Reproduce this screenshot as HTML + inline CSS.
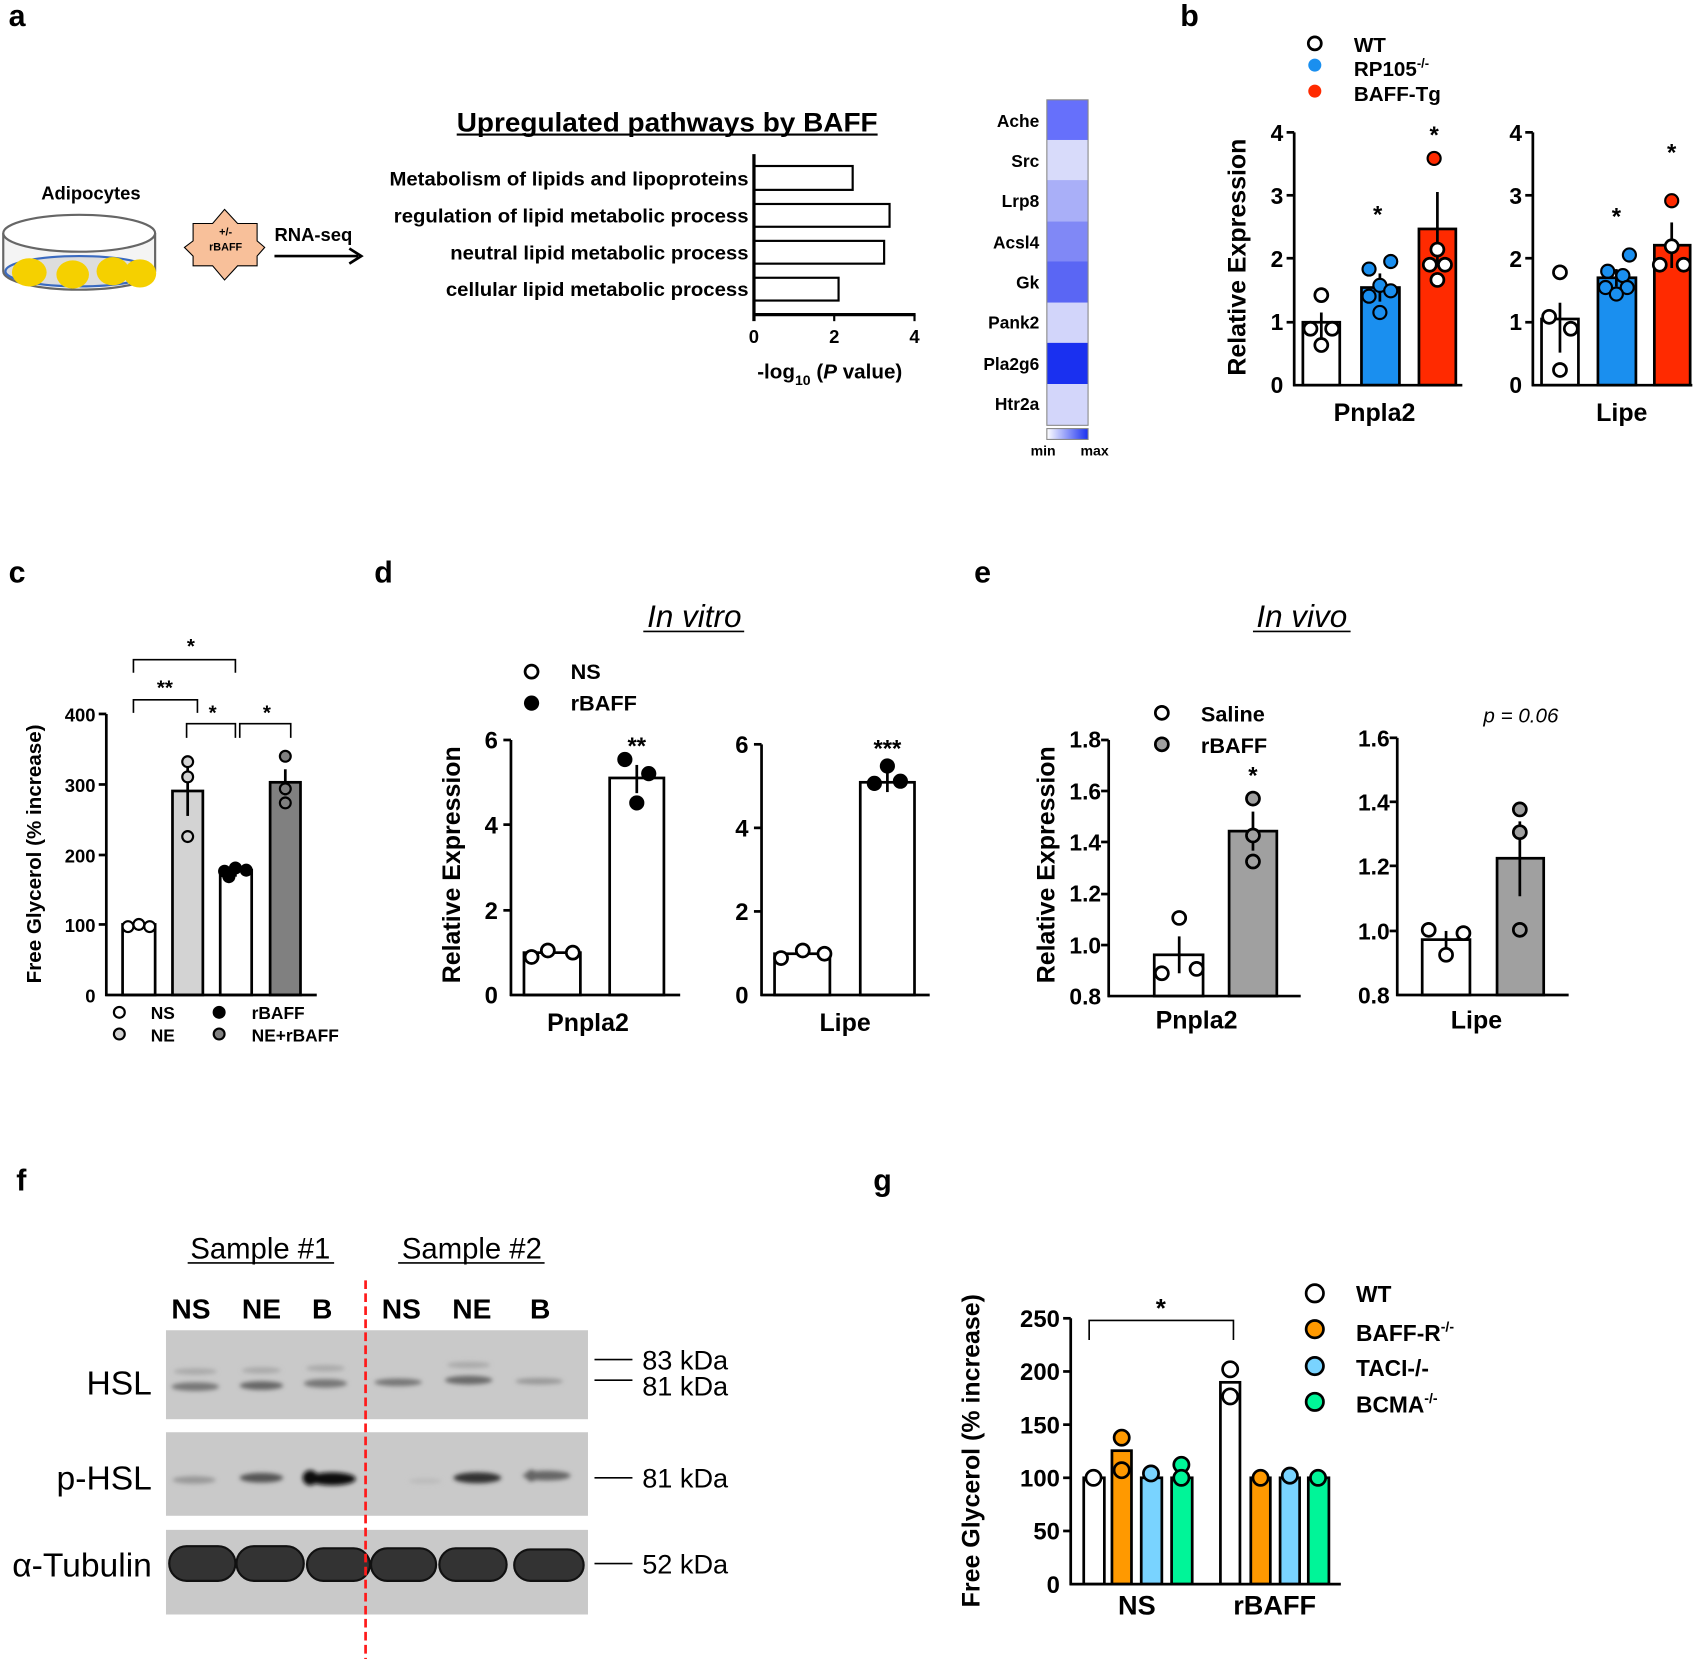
<!DOCTYPE html>
<html><head><meta charset="utf-8"><style>
html,body{margin:0;padding:0;background:#fff}
svg{display:block}
text{font-family:"Liberation Sans",Arial,sans-serif;font-weight:bold;fill:#000}
</style></head><body>
<svg width="1701" height="1659" viewBox="0 0 1568 1529" preserveAspectRatio="none" xmlns="http://www.w3.org/2000/svg">
<defs>
<linearGradient id="cb" x1="0" x2="1"><stop offset="0" stop-color="#fff"/><stop offset="1" stop-color="#1a30f0"/></linearGradient>
<filter id="bl"><feGaussianBlur stdDeviation="2"/></filter>
</defs>
<!-- panel a -->
<text x="8" y="24" font-size="28">a</text>
<text x="38" y="184" font-size="17">Adipocytes</text>
<path d="M3,215 L3,250 A70,17 0 0 0 143,250 L143,215" fill="#f4f4f4" stroke="#666" stroke-width="2"/>
<ellipse cx="73" cy="250" rx="68" ry="14" fill="#ddd" stroke="#3a6ac0" stroke-width="2"/>
<ellipse cx="73" cy="215" rx="70" ry="17" fill="#fff" stroke="#666" stroke-width="2"/>
<ellipse cx="27" cy="251" rx="16" ry="13" fill="#f5d000"/>
<ellipse cx="67" cy="253" rx="15" ry="13" fill="#f5d000"/>
<ellipse cx="104" cy="250" rx="15" ry="13" fill="#f5d000"/>
<ellipse cx="129" cy="252" rx="15" ry="13" fill="#f5d000"/>
<polygon points="207,193 219,206 237,206 237,222 244,228 237,236 237,245 219,245 207,258 196,245 178,245 178,236 170,228 178,222 178,206 196,206" fill="#f8c09a" stroke="#000" stroke-width="1"/>
<text x="208" y="217" font-size="10" text-anchor="middle">+/-</text>
<text x="208" y="231" font-size="10" text-anchor="middle">rBAFF</text>
<text x="253" y="222" font-size="17">RNA-seq</text>
<line x1="253" y1="236" x2="330" y2="236" stroke="#000" stroke-width="2.5"/>
<path d="M322,229 L333,236 L322,243" fill="none" stroke="#000" stroke-width="2.5"/>
<text x="421" y="121" font-size="25" textLength="388" lengthAdjust="spacingAndGlyphs">Upregulated pathways by BAFF</text>
<line x1="421" y1="124" x2="809" y2="124" stroke="#000" stroke-width="2"/>
<g stroke="#000" stroke-width="2" fill="#fff">
<rect x="695" y="153" width="91" height="22"/><rect x="695" y="188" width="125" height="21"/>
<rect x="695" y="222" width="120" height="21"/><rect x="695" y="256" width="78" height="21"/>
</g>
<line x1="695" y1="142" x2="695" y2="296" stroke="#000" stroke-width="3"/>
<line x1="694" y1="290" x2="844" y2="290" stroke="#000" stroke-width="3"/>
<g stroke="#000" stroke-width="2"><line x1="769" y1="290" x2="769" y2="296"/><line x1="843" y1="290" x2="843" y2="296"/></g>
<g font-size="17" text-anchor="middle"><text x="695" y="316">0</text><text x="769" y="316">2</text><text x="843" y="316">4</text></g>
<g font-size="18">
<text x="359" y="171" textLength="331" lengthAdjust="spacingAndGlyphs">Metabolism of lipids and lipoproteins</text>
<text x="363" y="205" textLength="327" lengthAdjust="spacingAndGlyphs">regulation of lipid metabolic process</text>
<text x="415" y="239" textLength="275" lengthAdjust="spacingAndGlyphs">neutral lipid metabolic process</text>
<text x="411" y="273" textLength="279" lengthAdjust="spacingAndGlyphs">cellular lipid metabolic process</text>
</g>
<text x="698" y="349" font-size="19">-log<tspan font-size="13" dy="6">10</tspan><tspan dy="-6"> (</tspan><tspan font-style="italic">P</tspan> value)</text>
<g stroke="none">
<rect x="965" y="92" width="38" height="38" fill="#6670fb"/>
<rect x="965" y="129" width="38" height="38" fill="#d8dbfa"/>
<rect x="965" y="166" width="38" height="38" fill="#a9aff8"/>
<rect x="965" y="204" width="38" height="38" fill="#8088f6"/>
<rect x="965" y="241" width="38" height="38" fill="#5a66f4"/>
<rect x="965" y="279" width="38" height="38" fill="#d2d5fa"/>
<rect x="965" y="316" width="38" height="38" fill="#1a30f0"/>
<rect x="965" y="354" width="38" height="38" fill="#d3d6fa"/>
</g>
<rect x="965" y="92" width="38" height="300" fill="none" stroke="#888" stroke-width="1"/>
<g font-size="16" text-anchor="end">
<text x="958" y="117">Ache</text><text x="958" y="154">Src</text><text x="958" y="191">Lrp8</text><text x="958" y="229">Acsl4</text>
<text x="958" y="266">Gk</text><text x="958" y="303">Pank2</text><text x="958" y="341">Pla2g6</text><text x="958" y="378">Htr2a</text>
</g>
<rect x="965" y="395" width="38" height="10" fill="url(#cb)" stroke="#888" stroke-width="1"/>
<text x="950" y="420" font-size="13">min</text><text x="996" y="420" font-size="13">max</text>
<!-- panel b -->
<text x="1088" y="24" font-size="28">b</text>
<circle cx="1212" cy="40" r="6" fill="#fff" stroke="#000" stroke-width="2.5"/>
<circle cx="1212" cy="60" r="6" fill="#1a8fef"/>
<circle cx="1212" cy="84" r="6" fill="#ff2a00"/>
<text x="1248" y="48" font-size="19">WT</text>
<text x="1248" y="70" font-size="19">RP105<tspan font-size="12" dy="-8">-/-</tspan></text>
<text x="1248" y="93" font-size="19">BAFF-Tg</text>
<text transform="translate(1148,237) rotate(-90)" font-size="23" text-anchor="middle">Relative Expression</text>
<g stroke="#000" stroke-width="2.5">
<rect x="1201" y="297" width="34" height="58" fill="#fff"/>
<rect x="1255" y="265" width="35" height="90" fill="#1a8fef"/>
<rect x="1308" y="211" width="34" height="144" fill="#ff2a00"/>
<rect x="1421" y="294" width="34" height="61" fill="#fff"/>
<rect x="1473" y="256" width="35" height="99" fill="#1a8fef"/>
<rect x="1525" y="226" width="33" height="129" fill="#ff2a00"/>
<line x1="1193" y1="122" x2="1193" y2="356"/><line x1="1192" y1="355" x2="1348" y2="355"/>
<line x1="1413" y1="122" x2="1413" y2="356"/><line x1="1412" y1="355" x2="1560" y2="355"/>
<line x1="1186" y1="122" x2="1193" y2="122"/><line x1="1186" y1="180" x2="1193" y2="180"/><line x1="1186" y1="238" x2="1193" y2="238"/><line x1="1186" y1="297" x2="1193" y2="297"/>
<line x1="1406" y1="122" x2="1413" y2="122"/><line x1="1406" y1="180" x2="1413" y2="180"/><line x1="1406" y1="238" x2="1413" y2="238"/><line x1="1406" y1="297" x2="1413" y2="297"/>
<line x1="1218" y1="288" x2="1218" y2="312"/><line x1="1272" y1="252" x2="1272" y2="278"/><line x1="1325" y1="177" x2="1325" y2="245"/>
<line x1="1438" y1="279" x2="1438" y2="325"/><line x1="1490" y1="248" x2="1490" y2="264"/><line x1="1541" y1="205" x2="1541" y2="247"/>
</g>
<g font-size="21" text-anchor="end">
<text x="1183" y="362">0</text><text x="1183" y="304">1</text><text x="1183" y="246">2</text><text x="1183" y="188">3</text><text x="1183" y="130">4</text>
<text x="1403" y="362">0</text><text x="1403" y="304">1</text><text x="1403" y="246">2</text><text x="1403" y="188">3</text><text x="1403" y="130">4</text>
</g>
<g fill="#fff" stroke="#000" stroke-width="2.5">
<circle cx="1218" cy="272" r="6"/><circle cx="1208" cy="303" r="6"/><circle cx="1228" cy="303" r="6"/><circle cx="1218" cy="318" r="6"/>
<circle cx="1438" cy="251" r="6"/><circle cx="1428" cy="292" r="6"/><circle cx="1448" cy="303" r="6"/><circle cx="1438" cy="341" r="6"/>
<circle cx="1325" cy="230" r="6"/><circle cx="1318" cy="244" r="6"/><circle cx="1332" cy="244" r="6"/><circle cx="1325" cy="258" r="6"/>
<circle cx="1530" cy="244" r="6"/><circle cx="1552" cy="244" r="6"/><circle cx="1541" cy="227" r="6"/>
</g>
<g fill="#1a8fef" stroke="#000" stroke-width="2">
<circle cx="1282" cy="241" r="6"/><circle cx="1262" cy="248" r="6"/><circle cx="1272" cy="263" r="6"/><circle cx="1282" cy="268" r="6"/><circle cx="1262" cy="273" r="6"/><circle cx="1272" cy="288" r="6"/>
<circle cx="1502" cy="235" r="6"/><circle cx="1482" cy="250" r="6"/><circle cx="1496" cy="254" r="6"/><circle cx="1480" cy="265" r="6"/><circle cx="1500" cy="265" r="6"/><circle cx="1490" cy="271" r="6"/>
</g>
<circle cx="1322" cy="146" r="6" fill="#ff2a00" stroke="#000" stroke-width="2"/>
<circle cx="1541" cy="185" r="6" fill="#ff2a00" stroke="#000" stroke-width="2"/>
<g font-size="22" text-anchor="middle"><text x="1270" y="205">*</text><text x="1322" y="132">*</text><text x="1490" y="207">*</text><text x="1541" y="148">*</text></g>
<text x="1267" y="388" font-size="23" text-anchor="middle">Pnpla2</text>
<text x="1495" y="388" font-size="23" text-anchor="middle">Lipe</text>
<!-- panel c -->
<text x="8" y="537" font-size="28">c</text>
<text transform="translate(38,787) rotate(-90)" font-size="19" text-anchor="middle">Free Glycerol (% increase)</text>
<g stroke="#000" stroke-width="2.5">
<rect x="113" y="852" width="30" height="65" fill="#fff"/>
<rect x="159" y="729" width="28" height="188" fill="#d3d3d3"/>
<rect x="203" y="802" width="29" height="115" fill="#fff"/>
<rect x="249" y="721" width="28" height="196" fill="#808080"/>
<line x1="98" y1="658" x2="98" y2="918"/><line x1="97" y1="917" x2="292" y2="917"/>
<line x1="91" y1="658" x2="98" y2="658"/><line x1="91" y1="723" x2="98" y2="723"/><line x1="91" y1="788" x2="98" y2="788"/><line x1="91" y1="852" x2="98" y2="852"/>
<line x1="173" y1="706" x2="173" y2="752"/><line x1="217" y1="795" x2="217" y2="808"/><line x1="263" y1="709" x2="263" y2="733"/>
</g>
<g stroke="#000" stroke-width="1.5" fill="none">
<path d="M123,620 V608 H217 V620"/><path d="M123,657 V645 H182 V657"/><path d="M172,680 V667 H217 V680"/><path d="M221,680 V667 H268 V680"/>
</g>
<g font-size="19" text-anchor="middle"><text x="176" y="602">*</text><text x="152" y="640">**</text><text x="196" y="663">*</text><text x="246" y="663">*</text></g>
<g font-size="17" text-anchor="end"><text x="88" y="924">0</text><text x="88" y="859">100</text><text x="88" y="795">200</text><text x="88" y="730">300</text><text x="88" y="665">400</text></g>
<g stroke="#000" stroke-width="2">
<circle cx="118" cy="854" r="5" fill="#fff"/><circle cx="128" cy="852" r="5" fill="#fff"/><circle cx="138" cy="854" r="5" fill="#fff"/>
<circle cx="173" cy="702" r="5" fill="#d3d3d3"/><circle cx="173" cy="716" r="5" fill="#d3d3d3"/><circle cx="173" cy="771" r="5" fill="#d3d3d3"/>
<circle cx="207" cy="803" r="5" fill="#000"/><circle cx="217" cy="800" r="5" fill="#000"/><circle cx="227" cy="802" r="5" fill="#000"/><circle cx="211" cy="808" r="5" fill="#000"/>
<circle cx="263" cy="697" r="5" fill="#808080"/><circle cx="263" cy="727" r="5" fill="#808080"/><circle cx="263" cy="740" r="5" fill="#808080"/>
<circle cx="110" cy="933" r="5" fill="#fff"/><circle cx="110" cy="953" r="5" fill="#d3d3d3"/><circle cx="202" cy="933" r="5" fill="#000"/><circle cx="202" cy="953" r="5" fill="#808080"/>
</g>
<g font-size="16"><text x="139" y="939">NS</text><text x="139" y="960">NE</text><text x="232" y="939">rBAFF</text><text x="232" y="960">NE+rBAFF</text></g>
<!-- panel d -->
<text x="345" y="537" font-size="28">d</text>
<text x="640" y="578" font-size="29" font-style="italic" text-anchor="middle" style="font-weight:normal">In vitro</text>
<line x1="593" y1="582" x2="686" y2="582" stroke="#000" stroke-width="1.5"/>
<circle cx="490" cy="619" r="6" fill="#fff" stroke="#000" stroke-width="2.5"/><circle cx="490" cy="648" r="7" fill="#000"/>
<text x="526" y="626" font-size="20">NS</text><text x="526" y="655" font-size="20">rBAFF</text>
<text transform="translate(424,797) rotate(-90)" font-size="23" text-anchor="middle">Relative Expression</text>
<g stroke="#000" stroke-width="2.5">
<rect x="483" y="878" width="52" height="39" fill="#fff"/><rect x="562" y="717" width="50" height="200" fill="#fff"/>
<rect x="714" y="879" width="51" height="38" fill="#fff"/><rect x="793" y="721" width="50" height="196" fill="#fff"/>
<line x1="471" y1="682" x2="471" y2="918"/><line x1="470" y1="917" x2="627" y2="917"/>
<line x1="702" y1="686" x2="702" y2="918"/><line x1="701" y1="917" x2="857" y2="917"/>
<line x1="464" y1="682" x2="471" y2="682"/><line x1="464" y1="760" x2="471" y2="760"/><line x1="464" y1="839" x2="471" y2="839"/>
<line x1="695" y1="686" x2="702" y2="686"/><line x1="695" y1="763" x2="702" y2="763"/><line x1="695" y1="840" x2="702" y2="840"/>
<line x1="587" y1="705" x2="587" y2="731"/><line x1="818" y1="710" x2="818" y2="730"/>
</g>
<g font-size="22" text-anchor="end"><text x="459" y="925">0</text><text x="459" y="847">2</text><text x="459" y="768">4</text><text x="459" y="690">6</text>
<text x="690" y="925">0</text><text x="690" y="848">2</text><text x="690" y="771">4</text><text x="690" y="694">6</text></g>
<g stroke="#000" stroke-width="2.5" fill="#fff"><circle cx="490" cy="882" r="6"/><circle cx="505" cy="876" r="6"/><circle cx="528" cy="878" r="6"/>
<circle cx="720" cy="883" r="6"/><circle cx="740" cy="876" r="6"/><circle cx="760" cy="879" r="6"/></g>
<g fill="#000"><circle cx="576" cy="700" r="7"/><circle cx="598" cy="713" r="7"/><circle cx="587" cy="740" r="7"/>
<circle cx="818" cy="706" r="7"/><circle cx="806" cy="722" r="7"/><circle cx="830" cy="720" r="7"/></g>
<text x="587" y="695" font-size="22" text-anchor="middle">**</text><text x="818" y="697" font-size="22" text-anchor="middle">***</text>
<text x="542" y="950" font-size="23" text-anchor="middle">Pnpla2</text><text x="779" y="950" font-size="23" text-anchor="middle">Lipe</text>
<!-- panel e -->
<text x="898" y="537" font-size="28">e</text>
<text x="1200" y="578" font-size="29" font-style="italic" text-anchor="middle" style="font-weight:normal">In vivo</text>
<line x1="1155" y1="582" x2="1245" y2="582" stroke="#000" stroke-width="1.5"/>
<circle cx="1071" cy="657" r="6" fill="#fff" stroke="#000" stroke-width="2.5"/><circle cx="1071" cy="686" r="6" fill="#a0a0a0" stroke="#000" stroke-width="2.5"/>
<text x="1107" y="665" font-size="20">Saline</text><text x="1107" y="694" font-size="20">rBAFF</text>
<text x="1402" y="666" font-size="19" font-style="italic" text-anchor="middle" style="font-weight:normal">p = 0.06</text>
<text transform="translate(972,797) rotate(-90)" font-size="23" text-anchor="middle">Relative Expression</text>
<g stroke="#000" stroke-width="2.5">
<rect x="1064" y="880" width="45" height="38" fill="#fff"/><rect x="1133" y="766" width="44" height="152" fill="#a0a0a0"/>
<rect x="1311" y="866" width="44" height="51" fill="#fff"/><rect x="1380" y="791" width="43" height="126" fill="#a0a0a0"/>
<line x1="1022" y1="682" x2="1022" y2="919"/><line x1="1021" y1="918" x2="1199" y2="918"/>
<line x1="1288" y1="680" x2="1288" y2="918"/><line x1="1287" y1="917" x2="1446" y2="917"/>
<line x1="1015" y1="682" x2="1022" y2="682"/><line x1="1015" y1="729" x2="1022" y2="729"/><line x1="1015" y1="776" x2="1022" y2="776"/><line x1="1015" y1="824" x2="1022" y2="824"/><line x1="1015" y1="871" x2="1022" y2="871"/>
<line x1="1281" y1="680" x2="1288" y2="680"/><line x1="1281" y1="739" x2="1288" y2="739"/><line x1="1281" y1="798" x2="1288" y2="798"/><line x1="1281" y1="858" x2="1288" y2="858"/>
<line x1="1087" y1="863" x2="1087" y2="897"/><line x1="1155" y1="748" x2="1155" y2="784"/>
<line x1="1333" y1="858" x2="1333" y2="874"/><line x1="1401" y1="757" x2="1401" y2="826"/>
</g>
<g font-size="21" text-anchor="end"><text x="1015" y="926">0.8</text><text x="1015" y="879">1.0</text><text x="1015" y="831">1.2</text><text x="1015" y="784">1.4</text><text x="1015" y="737">1.6</text><text x="1015" y="689">1.8</text>
<text x="1281" y="925">0.8</text><text x="1281" y="866">1.0</text><text x="1281" y="806">1.2</text><text x="1281" y="747">1.4</text><text x="1281" y="688">1.6</text></g>
<g stroke="#000" stroke-width="2.5"><circle cx="1087" cy="846" r="6" fill="#fff"/><circle cx="1071" cy="897" r="6" fill="#fff"/><circle cx="1103" cy="893" r="6" fill="#fff"/>
<circle cx="1155" cy="736" r="6" fill="#a0a0a0"/><circle cx="1155" cy="770" r="6" fill="#a0a0a0"/><circle cx="1155" cy="794" r="6" fill="#a0a0a0"/>
<circle cx="1317" cy="857" r="6" fill="#fff"/><circle cx="1349" cy="860" r="6" fill="#fff"/><circle cx="1333" cy="880" r="6" fill="#fff"/>
<circle cx="1401" cy="746" r="6" fill="#a0a0a0"/><circle cx="1401" cy="767" r="6" fill="#a0a0a0"/><circle cx="1401" cy="857" r="6" fill="#a0a0a0"/></g>
<text x="1155" y="722" font-size="22" text-anchor="middle">*</text>
<text x="1103" y="948" font-size="23" text-anchor="middle">Pnpla2</text><text x="1361" y="948" font-size="23" text-anchor="middle">Lipe</text>
<!-- panel f -->
<text x="15" y="1097" font-size="28">f</text>
<text x="240" y="1160" font-size="27" text-anchor="middle" style="font-weight:normal">Sample #1</text><text x="435" y="1160" font-size="27" text-anchor="middle" style="font-weight:normal">Sample #2</text>
<line x1="173" y1="1164" x2="308" y2="1164" stroke="#000" stroke-width="1.5"/><line x1="367" y1="1164" x2="502" y2="1164" stroke="#000" stroke-width="1.5"/>
<g font-size="26" text-anchor="middle"><text x="176" y="1215">NS</text><text x="241" y="1215">NE</text><text x="297" y="1215">B</text><text x="370" y="1215">NS</text><text x="435" y="1215">NE</text><text x="498" y="1215">B</text></g>
<rect x="153" y="1226" width="389" height="82" fill="#c9c9c9"/>
<rect x="153" y="1320" width="389" height="77" fill="#c9c9c9"/>
<rect x="153" y="1410" width="389" height="78" fill="#c9c9c9"/>
<g filter="url(#bl)" fill="#777">
<ellipse cx="180" cy="1278" rx="22" ry="4"/><ellipse cx="241" cy="1277" rx="20" ry="4" fill="#666"/><ellipse cx="300" cy="1275" rx="20" ry="4"/>
<ellipse cx="367" cy="1274" rx="22" ry="3.5"/><ellipse cx="432" cy="1272" rx="22" ry="4" fill="#6a6a6a"/><ellipse cx="497" cy="1273" rx="22" ry="3" fill="#999"/>
<g fill="#aaa"><ellipse cx="180" cy="1264" rx="20" ry="3"/><ellipse cx="241" cy="1263" rx="18" ry="3"/><ellipse cx="300" cy="1261" rx="18" ry="3"/><ellipse cx="432" cy="1258" rx="20" ry="3"/></g>
<ellipse cx="179" cy="1364" rx="20" ry="3.5" fill="#999"/><ellipse cx="241" cy="1362" rx="20" ry="4.5" fill="#555"/><circle cx="286" cy="1362" r="7" fill="#111"/>
<ellipse cx="306" cy="1363" rx="22" ry="6" fill="#111"/><ellipse cx="392" cy="1365" rx="15" ry="2.5" fill="#bbb"/>
<ellipse cx="440" cy="1362" rx="22" ry="5" fill="#333"/><circle cx="490" cy="1360" r="5" fill="#333"/><ellipse cx="504" cy="1360" rx="22" ry="4.5" fill="#666"/>
</g>
<g fill="#333" stroke="#111" stroke-width="2">
<rect x="156" y="1425" width="61" height="32" rx="16"/><rect x="218" y="1425" width="62" height="32" rx="16"/><rect x="283" y="1427" width="58" height="30" rx="15"/>
<rect x="342" y="1427" width="60" height="30" rx="15"/><rect x="405" y="1427" width="62" height="30" rx="15"/><rect x="474" y="1428" width="64" height="29" rx="15"/>
</g>
<line x1="337" y1="1180" x2="337" y2="1529" stroke="#ff1a1a" stroke-width="2.5" stroke-dasharray="8,4"/>
<g font-size="31" text-anchor="end"><text x="140" y="1285" style="font-weight:normal">HSL</text><text x="140" y="1373" style="font-weight:normal">p-HSL</text><text x="140" y="1453" style="font-weight:normal">α-Tubulin</text></g>
<g stroke="#000" stroke-width="1.5"><line x1="548" y1="1253" x2="583" y2="1253"/><line x1="548" y1="1272" x2="583" y2="1272"/><line x1="548" y1="1362" x2="583" y2="1362"/><line x1="548" y1="1441" x2="583" y2="1441"/></g>
<g font-size="25"><text x="592" y="1262" style="font-weight:normal">83 kDa</text><text x="592" y="1286" style="font-weight:normal">81 kDa</text><text x="592" y="1371" style="font-weight:normal">81 kDa</text><text x="592" y="1450" style="font-weight:normal">52 kDa</text></g>
<!-- panel g -->
<text x="805" y="1097" font-size="28">g</text>
<text transform="translate(903,1337) rotate(-90)" font-size="23" text-anchor="middle">Free Glycerol (% increase)</text>
<g stroke="#000" stroke-width="2.5">
<rect x="999" y="1362" width="19" height="98" fill="#fff"/><rect x="1025" y="1337" width="18" height="123" fill="#ff9900"/>
<rect x="1052" y="1362" width="19" height="98" fill="#79d3ff"/><rect x="1080" y="1362" width="19" height="98" fill="#00f598"/>
<rect x="1125" y="1274" width="18" height="186" fill="#fff"/><rect x="1153" y="1362" width="18" height="98" fill="#ff9900"/>
<rect x="1180" y="1362" width="18" height="98" fill="#79d3ff"/><rect x="1206" y="1362" width="19" height="98" fill="#00f598"/>
<line x1="987" y1="1215" x2="987" y2="1461"/><line x1="986" y1="1460" x2="1236" y2="1460"/>
<line x1="980" y1="1215" x2="987" y2="1215"/><line x1="980" y1="1264" x2="987" y2="1264"/><line x1="980" y1="1313" x2="987" y2="1313"/><line x1="980" y1="1362" x2="987" y2="1362"/><line x1="980" y1="1411" x2="987" y2="1411"/>
</g>
<path d="M1004,1235 V1217 H1137 V1235" fill="none" stroke="#000" stroke-width="1.5"/>
<text x="1070" y="1214" font-size="24" text-anchor="middle">*</text>
<g font-size="22" text-anchor="end"><text x="977" y="1468">0</text><text x="977" y="1419">50</text><text x="977" y="1370">100</text><text x="977" y="1321">150</text><text x="977" y="1272">200</text><text x="977" y="1223">250</text></g>
<g stroke="#000" stroke-width="2.5">
<circle cx="1008" cy="1362" r="7" fill="#fff"/><circle cx="1034" cy="1325" r="7" fill="#ff9900"/><circle cx="1034" cy="1355" r="7" fill="#ff9900"/>
<circle cx="1061" cy="1358" r="7" fill="#79d3ff"/><circle cx="1089" cy="1350" r="7" fill="#00f598"/><circle cx="1089" cy="1362" r="7" fill="#00f598"/>
<circle cx="1134" cy="1262" r="7" fill="#fff"/><circle cx="1134" cy="1287" r="7" fill="#fff"/>
<circle cx="1162" cy="1362" r="7" fill="#ff9900"/><circle cx="1189" cy="1360" r="7" fill="#79d3ff"/><circle cx="1215" cy="1362" r="7" fill="#00f598"/>
<circle cx="1212" cy="1192" r="8" fill="#fff"/><circle cx="1212" cy="1225" r="8" fill="#ff9900"/><circle cx="1212" cy="1259" r="8" fill="#79d3ff"/><circle cx="1212" cy="1292" r="8" fill="#00f598"/>
</g>
<g font-size="21"><text x="1250" y="1200">WT</text><text x="1250" y="1236">BAFF-R<tspan font-size="13" dy="-9">-/-</tspan></text><text x="1250" y="1268">TACI-/-</text><text x="1250" y="1302">BCMA<tspan font-size="13" dy="-9">-/-</tspan></text></g>
<text x="1048" y="1488" font-size="25" text-anchor="middle">NS</text><text x="1175" y="1488" font-size="25" text-anchor="middle">rBAFF</text>
</svg>
</body></html>
